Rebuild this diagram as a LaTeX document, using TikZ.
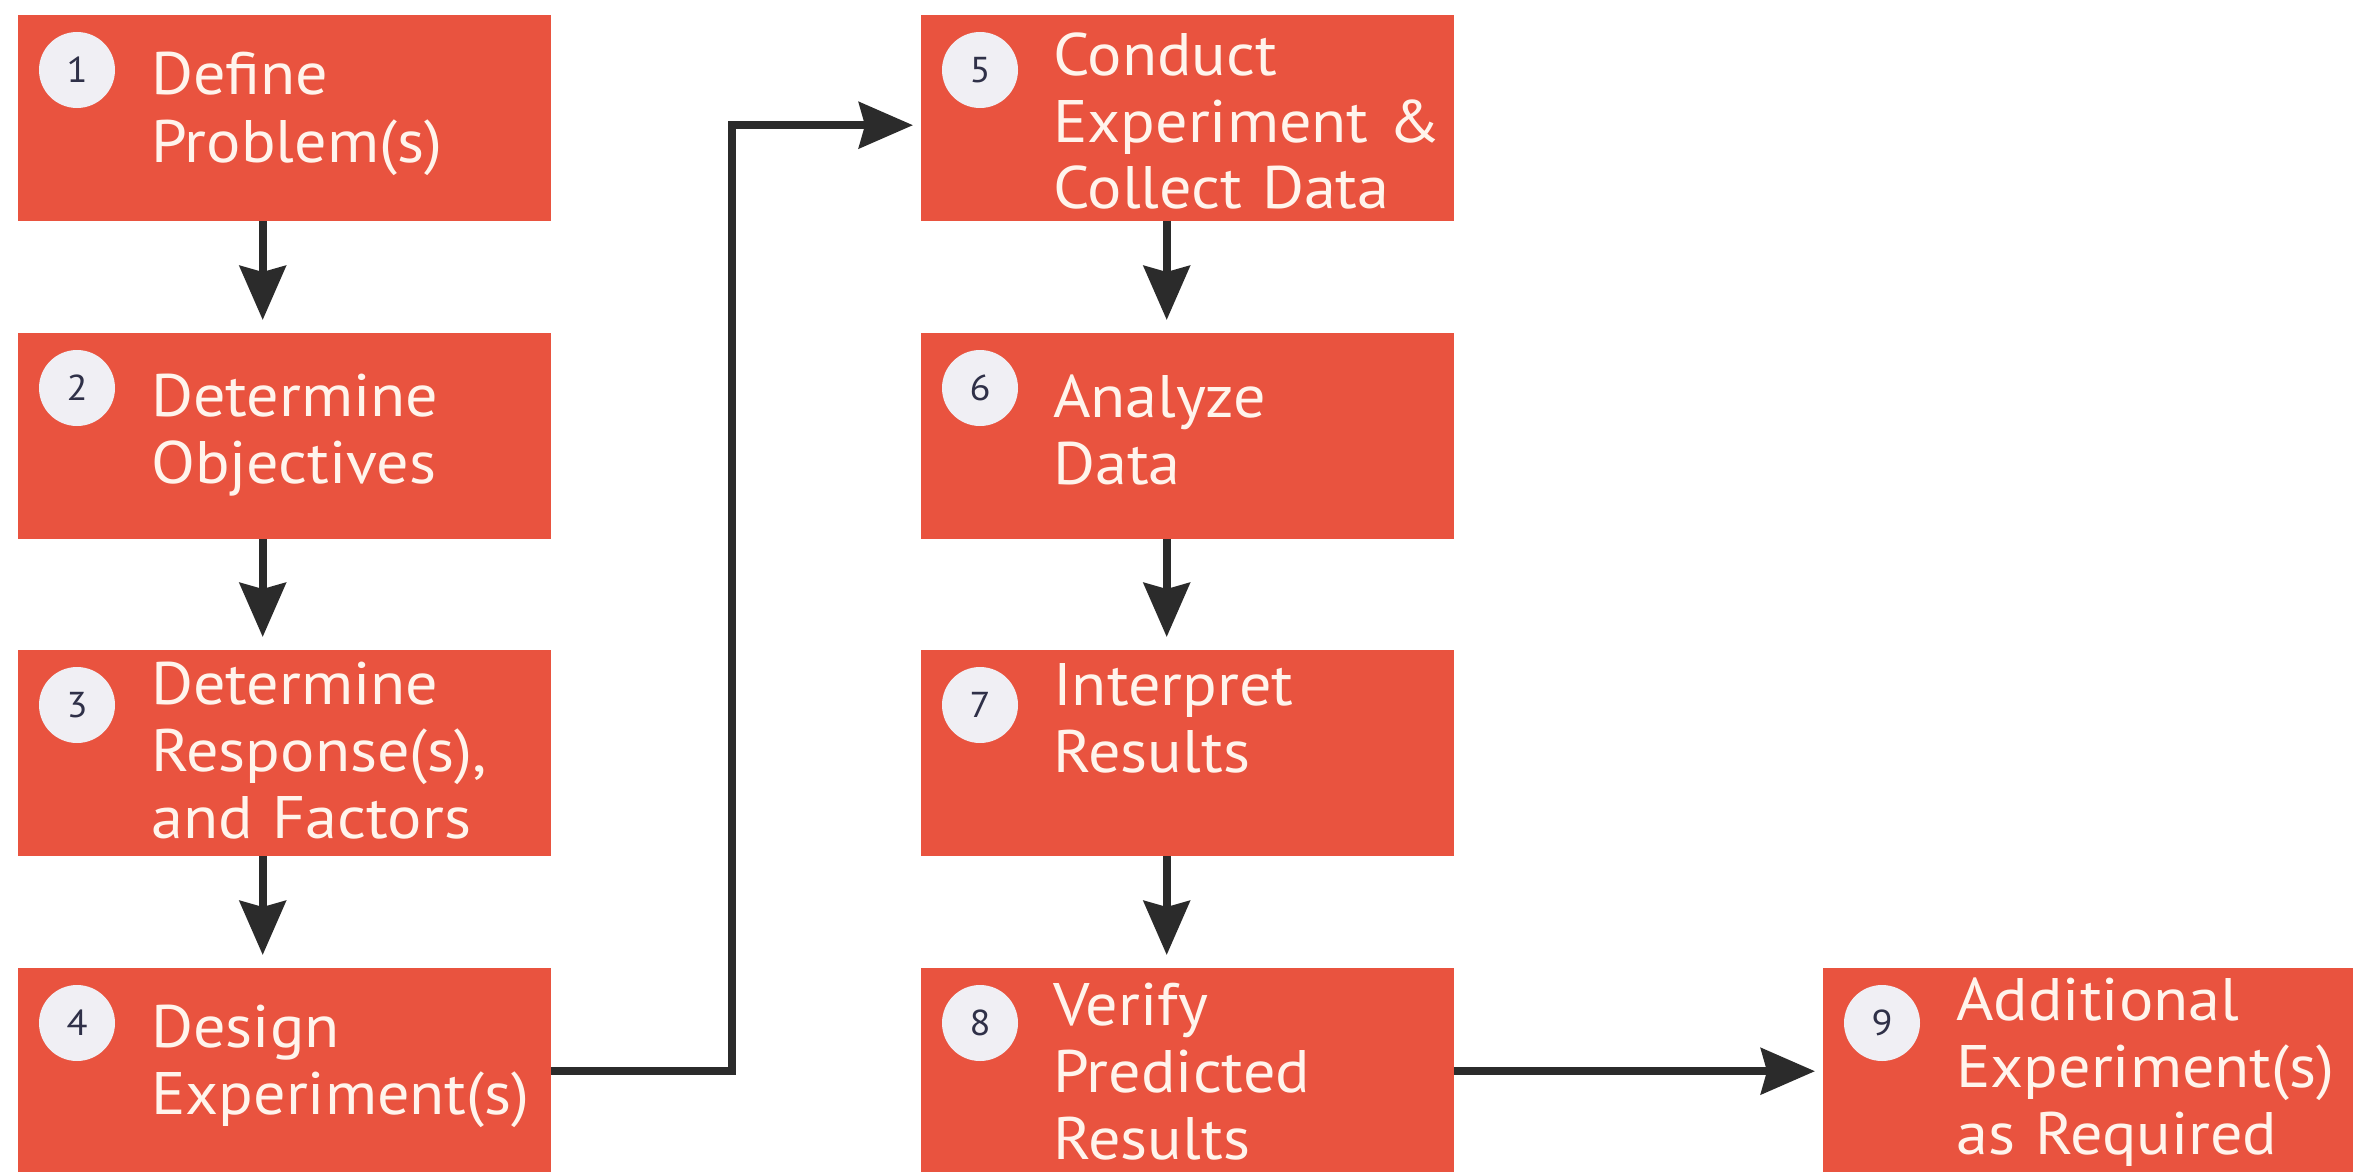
\documentclass[tikz,border=0pt]{standalone}
\usepackage{fontspec}
\setmainfont{PT Sans}[FakeStretch=1.07, WordSpace={0.6}]
\usetikzlibrary{arrows.meta}
\definecolor{boxred}{HTML}{E9533F}
\definecolor{arrowgray}{HTML}{2B2B2B}
\definecolor{txtwhite}{HTML}{FFF4EC}
\definecolor{circfill}{HTML}{F0EFF4}
\definecolor{numcol}{HTML}{2F3048}
\begin{document}
\begin{tikzpicture}[x=1pt,y=-1pt,
 stepbox/.style={fill=boxred, draw=none, minimum width=533pt, minimum height=206pt, inner sep=0pt, anchor=north west},
 numcirc/.style={circle, fill=circfill, minimum size=76pt, inner sep=0pt, font=\fontsize{36}{36}\selectfont, text=numcol},
 steplabel/.style={anchor=base west, align=left, text width=420pt, inner sep=0pt, text=txtwhite, font=\fontsize{60}{67}\selectfont},
 arr/.style={draw=arrowgray, line width=8pt, -{Stealth[length=54pt,width=46pt,inset=6pt]}}
]
\useasboundingbox[fill=white] (0,0) rectangle (2353,1172);
% boxes
\node[stepbox] (b1) at (18,15) {};
\node[stepbox] (b2) at (18,333) {};
\node[stepbox] (b3) at (18,650) {};
\node[stepbox] (b4) at (18,968) {};
\node[stepbox] (b5) at (921,15) {};
\node[stepbox] (b6) at (921,333) {};
\node[stepbox] (b7) at (921,650) {};
\node[stepbox] (b8) at (921,968) {};
\node[stepbox, minimum width=530pt] (b9) at (1823,968) {};
% number circles
\foreach \i in {1,...,9}{
  \node[numcirc] (c\i) at ([xshift=59pt,yshift=-55pt]b\i.north west) {\i};
}
% labels
\node[steplabel] (t1) at (151,95) {Define\\Problem(s)};
\node[steplabel] (t2) at (151,416) {Determine\\Objectives};
\node[steplabel] (t3) at (151,704) {Determine\\Response(s),\\and Factors};
\node[steplabel] (t4) at (151,1047) {Design\\Experiment(s)};
\node[steplabel] (t5) at (1053,75) {Conduct\\Experiment \&\\Collect Data};
\node[steplabel] (t6) at (1053,417) {Analyze\\Data};
\node[steplabel] (t7) at (1053,705) {Interpret\\Results};
\node[steplabel] (t8) at (1053,1025) {Verify\\Predicted\\Results};
\node[steplabel] (t9) at (1956,1020) {Additional\\Experiment(s)\\as Required};
% arrows
\draw[arr] ([xshift=-22pt]b1.south) -- ([xshift=-22pt,yshift=13pt]b2.north);
\draw[arr] ([xshift=-22pt]b2.south) -- ([xshift=-22pt,yshift=13pt]b3.north);
\draw[arr] ([xshift=-22pt]b3.south) -- ([xshift=-22pt,yshift=13pt]b4.north);
\draw[arr] ([xshift=-21pt]b5.south) -- ([xshift=-21pt,yshift=13pt]b6.north);
\draw[arr] ([xshift=-21pt]b6.south) -- ([xshift=-21pt,yshift=13pt]b7.north);
\draw[arr] ([xshift=-21pt]b7.south) -- ([xshift=-21pt,yshift=13pt]b8.north);
\draw[arr] (b4.east) -- ++(181,0) |- ([xshift=-8pt,yshift=-7pt]b5.west);
\draw[arr] (b8.east) -- ([xshift=-8pt]b9.west);
\end{tikzpicture}
\end{document}
